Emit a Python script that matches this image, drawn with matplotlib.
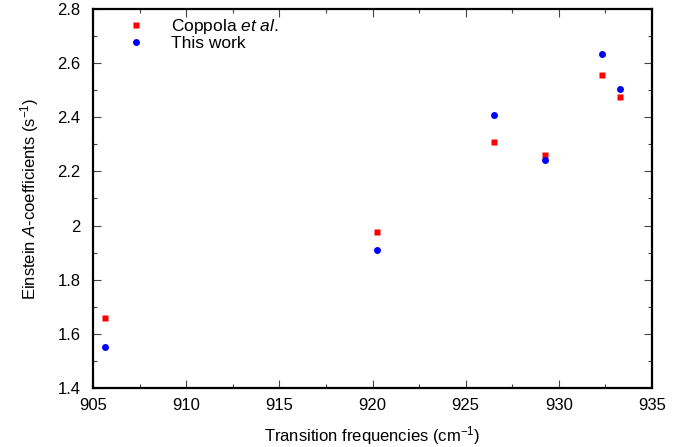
import matplotlib
matplotlib.use("Agg")
import matplotlib.pyplot as plt
from matplotlib.ticker import MultipleLocator

plt.rcParams['font.family'] = ['Liberation Sans', 'DejaVu Sans']
plt.rcParams['mathtext.fontset'] = 'custom'
plt.rcParams['mathtext.rm'] = 'Liberation Sans'
plt.rcParams['mathtext.it'] = 'Liberation Sans:italic'

freq = [905.64, 920.24, 926.5, 929.26, 932.32, 933.29]
coppola = [1.659, 1.978, 2.307, 2.259, 2.557, 2.475]
this_work = [1.552, 1.911, 2.407, 2.241, 2.633, 2.506]

fig = plt.figure(figsize=(6.94, 4.47), dpi=100)
ax = fig.add_axes([0.134, 0.132, 0.8055, 0.848])

ax.plot(freq, coppola, 's', color='#ff0000', ms=5, mec='none', label='Coppola $\\it{et\\ al.}$')
ax.plot(freq, this_work, 'o', color='#0000ff', ms=5, mec='none', label='This work')

ax.set_xlim(905, 935)
ax.set_ylim(1.4, 2.8)
ax.xaxis.set_major_locator(MultipleLocator(5))
ax.xaxis.set_minor_locator(MultipleLocator(2.5))
ax.yaxis.set_minor_locator(MultipleLocator(0.1))
ax.set_yticks([1.4, 1.6, 1.8, 2.0, 2.2, 2.4, 2.6, 2.8])
ax.set_yticklabels(['1.4', '1.6', '1.8', '2', '2.2', '2.4', '2.6', '2.8'])

ax.tick_params(which='both', direction='in', top=True, right=True, labelsize=12, color='#444444')
ax.tick_params(which='major', length=6, width=0.8)
ax.tick_params(which='minor', length=3, width=0.8)
ax.tick_params(axis='y', which='both', pad=9)
ax.tick_params(axis='x', which='both', pad=7)
for s in ax.spines.values():
    s.set_linewidth(1.6)

ax.set_xlabel('Transition frequencies (cm$^{-1}$)', fontsize=12, labelpad=8)
ax.set_ylabel('Einstein $\\it{A}$-coefficients (s$^{-1}$)', fontsize=12, labelpad=12)

ax.legend(loc='upper left', bbox_to_anchor=(0.034, 1.021), frameon=False, fontsize=12.5,
          handletextpad=1.5, labelspacing=0.0, handlelength=1.0)

fig.savefig('out.png', dpi=100)
